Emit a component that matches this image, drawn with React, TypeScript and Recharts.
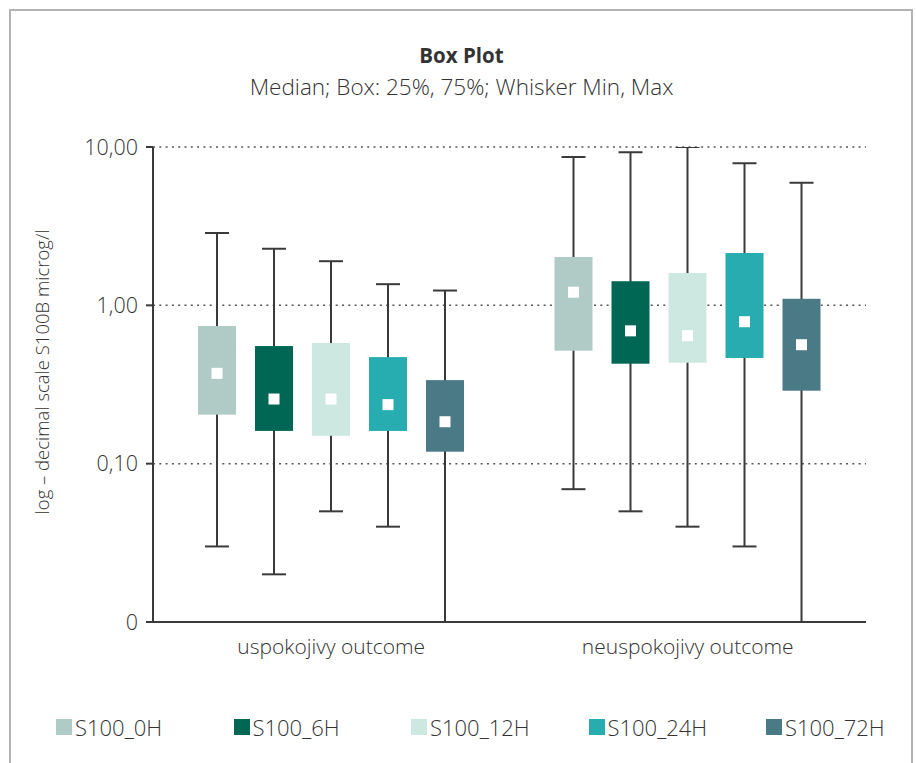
import { BarChart, Bar, XAxis, YAxis, CartesianGrid, Label } from 'recharts'

// categories on the x axis
const categories = ['uspokojivy outcome', 'neuspokojivy outcome']

// per series, per category: [min, q1, median, q3, max]
const S100_0H = [
  [0.03, 0.204, 0.372, 0.74, 2.86],
  [0.069, 0.517, 1.21, 2.02, 8.65],
]
const S100_6H = [
  [0.02, 0.161, 0.256, 0.553, 2.28],
  [0.05, 0.428, 0.69, 1.42, 9.26],
]
const S100_12H = [
  [0.05, 0.15, 0.256, 0.578, 1.9],
  [0.04, 0.434, 0.643, 1.6, 10.0],
]
const S100_24H = [
  [0.04, 0.161, 0.236, 0.471, 1.36],
  [0.03, 0.465, 0.788, 2.14, 7.89],
]
const S100_72H = [
  [0.01, 0.119, 0.184, 0.337, 1.24],
  [0.01, 0.289, 0.564, 1.1, 5.95],
]

const seriesNames = ['S100_0H', 'S100_6H', 'S100_12H', 'S100_24H', 'S100_72H']
const seriesValues = [S100_0H, S100_6H, S100_12H, S100_24H, S100_72H]
const seriesColors = ['#b0cbc6', '#006754', '#cde7e1', '#27adb0', '#4a7a85']

const yTicks = [0.01, 0.1, 1, 10]
const yTickLabels = ['0', '0,10', '1,00', '10,00']

const data = categories.map((name, i) => {
  const row: any = { name }
  seriesNames.forEach((s, j) => {
    row[s] = seriesValues[j][i]
  })
  return row
})

const FONT = '"Open Sans", sans-serif'
const TEXT = '#333'
const LINE = '#3a3a3a'

function BoxShape(props: any) {
  const { x, y, width, height, payload, seriesKey, fill } = props
  const [min, q1, med, q3, max] = payload[seriesKey]
  const top = Math.min(y, y + height)
  const bottom = Math.max(y, y + height)
  const lmax = Math.log10(max)
  const lmin = Math.log10(min)
  // log interpolation between the bar's own (scaled) min and max ends
  const py = (v: number) => top + ((lmax - Math.log10(v)) / (lmax - lmin)) * (bottom - top)
  const cx = x + width / 2
  const cap = 12
  const yq3 = py(q3)
  const yq1 = py(q1)
  const ym = py(med)
  return (
    <g>
      <line x1={cx} x2={cx} y1={top} y2={bottom} stroke={LINE} strokeWidth={2} />
      <line x1={cx - cap} x2={cx + cap} y1={top} y2={top} stroke={LINE} strokeWidth={2} />
      <line x1={cx - cap} x2={cx + cap} y1={bottom} y2={bottom} stroke={LINE} strokeWidth={2} />
      <rect x={x} y={yq3} width={width} height={yq1 - yq3} fill={fill} />
      <rect x={cx - 5.5} y={ym - 5.5} width={11} height={11} fill="#fff" />
    </g>
  )
}

export default function App() {
  return (
    <div
      style={{
        position: 'fixed',
        left: 0,
        top: 0,
        width: 916,
        height: 763,
        overflow: 'hidden',
        background: '#fff',
        fontFamily: FONT,
        fontWeight: 300,
      }}
    >
      <div
        style={{
          position: 'absolute',
          left: 9,
          top: 9,
          width: 900,
          height: 800,
          borderLeft: '2px solid #b3b3b3',
          borderTop: '2px solid #b3b3b3',
          borderRight: '2px solid #b3b3b3',
        }}
      />
      <div
        style={{
          position: 'absolute',
          left: 10,
          width: 903,
          top: 40,
          textAlign: 'center',
          fontSize: 20.5,
          fontWeight: 700,
          color: TEXT,
          lineHeight: '30px',
        }}
      >
        Box Plot
      </div>
      <div
        style={{
          position: 'absolute',
          left: 10,
          width: 903,
          top: 72,
          textAlign: 'center',
          fontSize: 22.5,
          color: TEXT,
          lineHeight: '30px',
        }}
      >
        Median; Box: 25%, 75%; Whisker Min, Max
      </div>

      <BarChart
        width={916}
        height={763}
        data={data}
        margin={{ top: 147, right: 50, bottom: 101, left: 73 }}
        barSize={38}
        barGap={19}
        barCategoryGap="10%"
        style={{ position: 'absolute', left: 0, top: 0 }}
      >
        <CartesianGrid
          vertical={false}
          stroke="#555"
          strokeDasharray="2 4.3"
          strokeWidth={1.5}
        />
        <XAxis
          dataKey="name"
          height={40}
          axisLine={{ stroke: LINE, strokeWidth: 2 }}
          tickLine={false}
          tickSize={0}
          tickMargin={17}
          tick={{ fontSize: 21, fontFamily: FONT, fontWeight: 300, fill: TEXT }}
        />
        <YAxis
          scale="log"
          domain={[0.01, 10]}
          allowDataOverflow
          ticks={yTicks}
          width={80}
          axisLine={{ stroke: LINE, strokeWidth: 2 }}
          tickLine={{ stroke: LINE, strokeWidth: 2 }}
          tickSize={7}
          tickMargin={8}
          tickFormatter={(v: number) => yTickLabels[yTicks.indexOf(v)] ?? String(v)}
          tick={{ fontSize: 21.5, fontFamily: FONT, fontWeight: 300, fill: TEXT }}
        >
          <Label
            content={() => (
              <text
                x={41}
                y={372}
                transform="rotate(-90 41 372)"
                textAnchor="middle"
                dominantBaseline="central"
                fontSize={18.5}
                fontFamily={FONT}
                fontWeight={300}
                fill={TEXT}
              >
                log – decimal scale S100B microg/l
              </text>
            )}
          />
        </YAxis>
        {seriesNames.map((s, j) => (
          <Bar
            key={s}
            name={s}
            dataKey={(d: any) => [d[s][0], d[s][4]]}
            fill={seriesColors[j]}
            isAnimationActive={false}
            shape={(p: any) => <BoxShape {...p} seriesKey={s} fill={seriesColors[j]} />}
          />
        ))}
      </BarChart>

      <div
        style={{
          position: 'absolute',
          left: 56,
          top: 713,
          display: 'flex',
          fontSize: 22,
          color: TEXT,
        }}
      >
        {seriesNames.map((s, j) => (
          <div key={s} style={{ width: 177.5, display: 'flex', alignItems: 'center', height: 28 }}>
            <span
              style={{
                display: 'inline-block',
                width: 16,
                height: 16,
                background: seriesColors[j],
                marginRight: 3,
              }}
            />
            <span>{s}</span>
          </div>
        ))}
      </div>
    </div>
  )
}
